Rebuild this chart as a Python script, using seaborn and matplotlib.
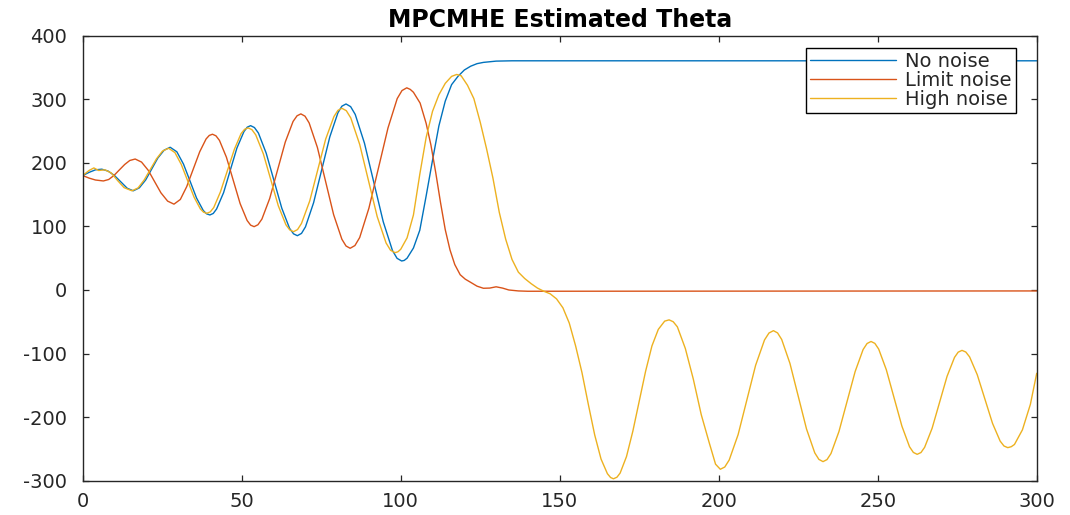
import matplotlib
matplotlib.use("Agg")
import matplotlib.pyplot as plt
import pandas as pd
import seaborn as sns

# Estimated theta trajectories from the MPC/MHE runs
t_no_noise = [0, 2, 4, 6, 8, 10, 12, 14, 15.9, 17.8, 19.8, 21.7, 23.6, 25.6, 27.5,
              29.6, 31.7, 33.75, 35.8, 37.9, 38.95, 40, 41.05, 42.1, 44.3, 46.4, 48.5,
              50.7, 51.75, 52.8, 54.0, 55.25, 57.7, 60.15, 62.6, 65.05, 66.3, 67.5,
              68.8, 70.05, 72.6, 75.15, 77.7, 80.25, 81.5, 82.8, 84.25, 85.7, 88.6,
              91.55, 94.5, 97.4, 98.85, 100.3, 101.1, 102, 104, 106, 108, 110, 112,
              114, 116, 118, 120, 122, 124, 126, 130, 135, 300]
theta_no_noise = [180, 185, 189, 190, 187, 180, 170, 160, 156, 160.6, 173.1, 190.3,
                  207.4, 219.9, 224.5, 217.4, 197.9, 171.3, 144.6, 125.1, 119.8, 118,
                  120.4, 127.4, 153.1, 188.3, 223.4, 249.1, 256.1, 258.5, 255.5, 246.9,
                  215.2, 172, 128.7, 97, 88.3, 85.4, 89, 99.3, 137.2, 189, 240.8,
                  278.7, 289.1, 292.6, 288.4, 276.1, 230.9, 169.1, 107.4, 62.1, 49.8,
                  45.6, 46.5, 50, 66, 94, 148, 204, 258, 297, 323, 336, 346, 352, 356,
                  358, 360, 360.5, 360.5]

t_limit_noise = [0, 2, 4, 6.5, 8.17, 9.83, 11.5, 13.2, 14.8, 16.5, 18.5, 20.6, 22.6,
                 24.6, 26.7, 28.7, 30.7, 32.7, 34.75, 36.8, 38.8, 39.8, 40.8, 41.9, 43,
                 45.2, 47.35, 49.5, 51.7, 52.8, 53.9, 55.1, 56.35, 58.8, 61.25, 63.7,
                 66.15, 67.4, 68.6, 69.9, 71.2, 73.8, 76.35, 78.9, 81.5, 82.8, 84.1,
                 85.6, 87.1, 90, 93, 96, 98.9, 100.4, 101.9, 103, 104, 106.1, 108,
                 109.5, 111, 112.5, 114, 115.5, 117, 118.7, 120.3, 122, 124, 126, 128,
                 130, 132, 134, 137, 140, 300]
theta_limit_noise = [180, 176, 173, 171.5, 173.8, 180.1, 188.75, 197.4, 203.7, 206,
                     201.2, 188.3, 170.5, 152.8, 139.8, 135, 142.4, 162.5, 190, 217.5,
                     237.6, 243.1, 245, 242.5, 235.3, 208.7, 172.3, 135.9, 109.3, 102,
                     99.6, 102.6, 111.5, 143.9, 188.3, 232.7, 265.1, 274, 277, 273.4,
                     262.8, 224.2, 171.3, 118.5, 79.8, 69.2, 65.6, 69.9, 82.5, 128.7,
                     191.8, 254.9, 301.1, 313.7, 318, 315.5, 311, 294, 262, 228, 185,
                     138, 95, 63, 40, 24, 17, 12, 6, 2.7, 3, 5, 3, 0, -1.5, -2, -1.5]

t_high_noise = [0, 2, 3.5, 5, 7, 9, 11, 13, 15.5, 17.4, 19.3, 21.25, 23.2, 25.1, 27,
                29, 31, 33, 35, 37, 38, 39, 40.1, 41.2, 43.3, 45.5, 47.7, 49.8, 50.9,
                52, 53.2, 54.4, 56.8, 59.15, 61.5, 63.9, 65.1, 66.3, 67.55, 68.8, 71.4,
                73.9, 76.4, 79, 80.25, 81.5, 82.9, 84.3, 87.1, 89.85, 92.6, 95.4, 96.8,
                98.2, 99.1, 100, 102, 104, 106, 108, 110, 112, 114, 116, 117.6, 119,
                121, 123, 125, 127, 129, 131, 133, 135, 137, 139, 141, 143, 145, 147,
                149, 151, 153, 155, 157, 159, 161, 163, 165, 166, 166.9, 168, 169, 171,
                173, 175, 177, 179, 181, 183, 184.4, 185.7, 187, 189.5, 192, 194.5,
                197, 199, 200.5, 201.9, 203.3, 206.1, 208.85, 211.6, 214.4, 215.8,
                217.2, 218.5, 219.8, 222.4, 225, 227.6, 230.2, 231.5, 232.8, 234.05,
                235.3, 237.8, 240.35, 242.9, 245.4, 246.65, 247.9, 249.1, 250.3, 252.7,
                255.15, 257.6, 260, 261.2, 262.4, 263.6, 264.75, 267.1, 269.45, 271.8,
                274.15, 275.3, 276.5, 277.7, 278.9, 281.3, 283.7, 286.1, 288.5, 289.7,
                290.9, 292, 293, 295.5, 298, 300]
theta_high_noise = [180, 188, 192, 188, 189, 184, 172, 161, 156, 160.5, 172.8, 189.5,
                    206.3, 218.5, 223, 216.1, 197.4, 171.8, 146.2, 127.5, 122.4, 120.6,
                    122.8, 129.6, 154.2, 187.8, 221.4, 246, 252.7, 255, 252.2, 244.1,
                    214.2, 173.4, 132.5, 102.6, 94.5, 91.7, 95, 104.7, 140.2, 188.8,
                    237.3, 272.8, 282.5, 285.8, 282, 270.6, 229, 172.3, 115.5, 73.9,
                    62.5, 58.7, 60, 64, 82, 118, 182, 240, 281, 307, 325, 336, 339, 337,
                    322, 301, 264, 222, 176, 122, 80, 48, 28, 18, 10, 3, -2, -6, -14,
                    -28, -52, -88, -130, -180, -228, -266, -289, -295, -297, -294.5,
                    -288, -262, -222, -175, -128, -88, -62, -49, -47, -50, -58, -92,
                    -140, -196, -240, -274, -282, -278.5, -267.4, -227.5, -173, -118.5,
                    -78.6, -67.7, -64, -67.5, -77.8, -115.5, -167, -218.5, -256.2,
                    -266.5, -270, -266.8, -257.3, -222.8, -175.5, -128.3, -93.7, -84.2,
                    -81, -84, -92.9, -125.4, -169.8, -214.1, -246.6, -255.5, -258.5,
                    -255.7, -247.5, -217.6, -176.8, -135.9, -106, -97.8, -95, -97.6,
                    -105.3, -133.3, -171.5, -209.8, -237.7, -245.4, -248, -246.5, -243,
                    -220, -180, -131]

series_names = ["No noise", "Limit noise", "High noise"]
series_colors = ["#0072BD", "#D95319", "#EDB120"]
x_ticks = [0, 50, 100, 150, 200, 250, 300]
y_ticks = [-300, -200, -100, 0, 100, 200, 300, 400]
title_text = "MPCMHE Estimated Theta"

frames = []
for name, t, th in zip(series_names,
                       [t_no_noise, t_limit_noise, t_high_noise],
                       [theta_no_noise, theta_limit_noise, theta_high_noise]):
    frames.append(pd.DataFrame({"t": t, "theta": th, "series": name}))
df = pd.concat(frames, ignore_index=True)

sns.set_theme(style="white")
plt.rcParams["font.family"] = ["DejaVu Sans"]
plt.rcParams["axes.unicode_minus"] = False

fig = plt.figure(figsize=(10.7, 5.15), dpi=100)
ax = fig.add_axes([0.0773, 0.0666, 0.8916, 0.8641])

sns.lineplot(data=df, x="t", y="theta", hue="series", hue_order=series_names,
             palette=series_colors, sort=False, estimator=None, linewidth=1.0, ax=ax)

ax.set_xlim(0, 300)
ax.set_ylim(-300, 400)
ax.set_xticks(x_ticks)
ax.set_yticks(y_ticks)
ax.set_xlabel("")
ax.set_ylabel("")
ax.set_title(title_text, fontsize=17, fontweight="bold", color="black", pad=6)

edge = "#262626"
for sp in ax.spines.values():
    sp.set_visible(True)
    sp.set_color(edge)
    sp.set_linewidth(1.0)
ax.tick_params(axis="both", which="major", direction="in", length=4, width=0.9,
               color=edge, labelcolor=edge, labelsize=14,
               top=True, right=True, bottom=True, left=True)
ax.tick_params(axis="y", pad=11)
ax.tick_params(axis="x", pad=8)

handles, labels = ax.get_legend_handles_labels()
leg = ax.legend(handles, labels, loc="upper right", bbox_to_anchor=(0.978, 0.9717),
                borderaxespad=0, fontsize=14, frameon=True, fancybox=False,
                framealpha=1, edgecolor="black", handlelength=4.4, handletextpad=0.5,
                labelspacing=0.0, borderpad=0.2)
leg.get_frame().set_linewidth(1.0)
for line in leg.get_lines():
    line.set_linewidth(1.0)

fig.savefig("out.png", dpi=100)
